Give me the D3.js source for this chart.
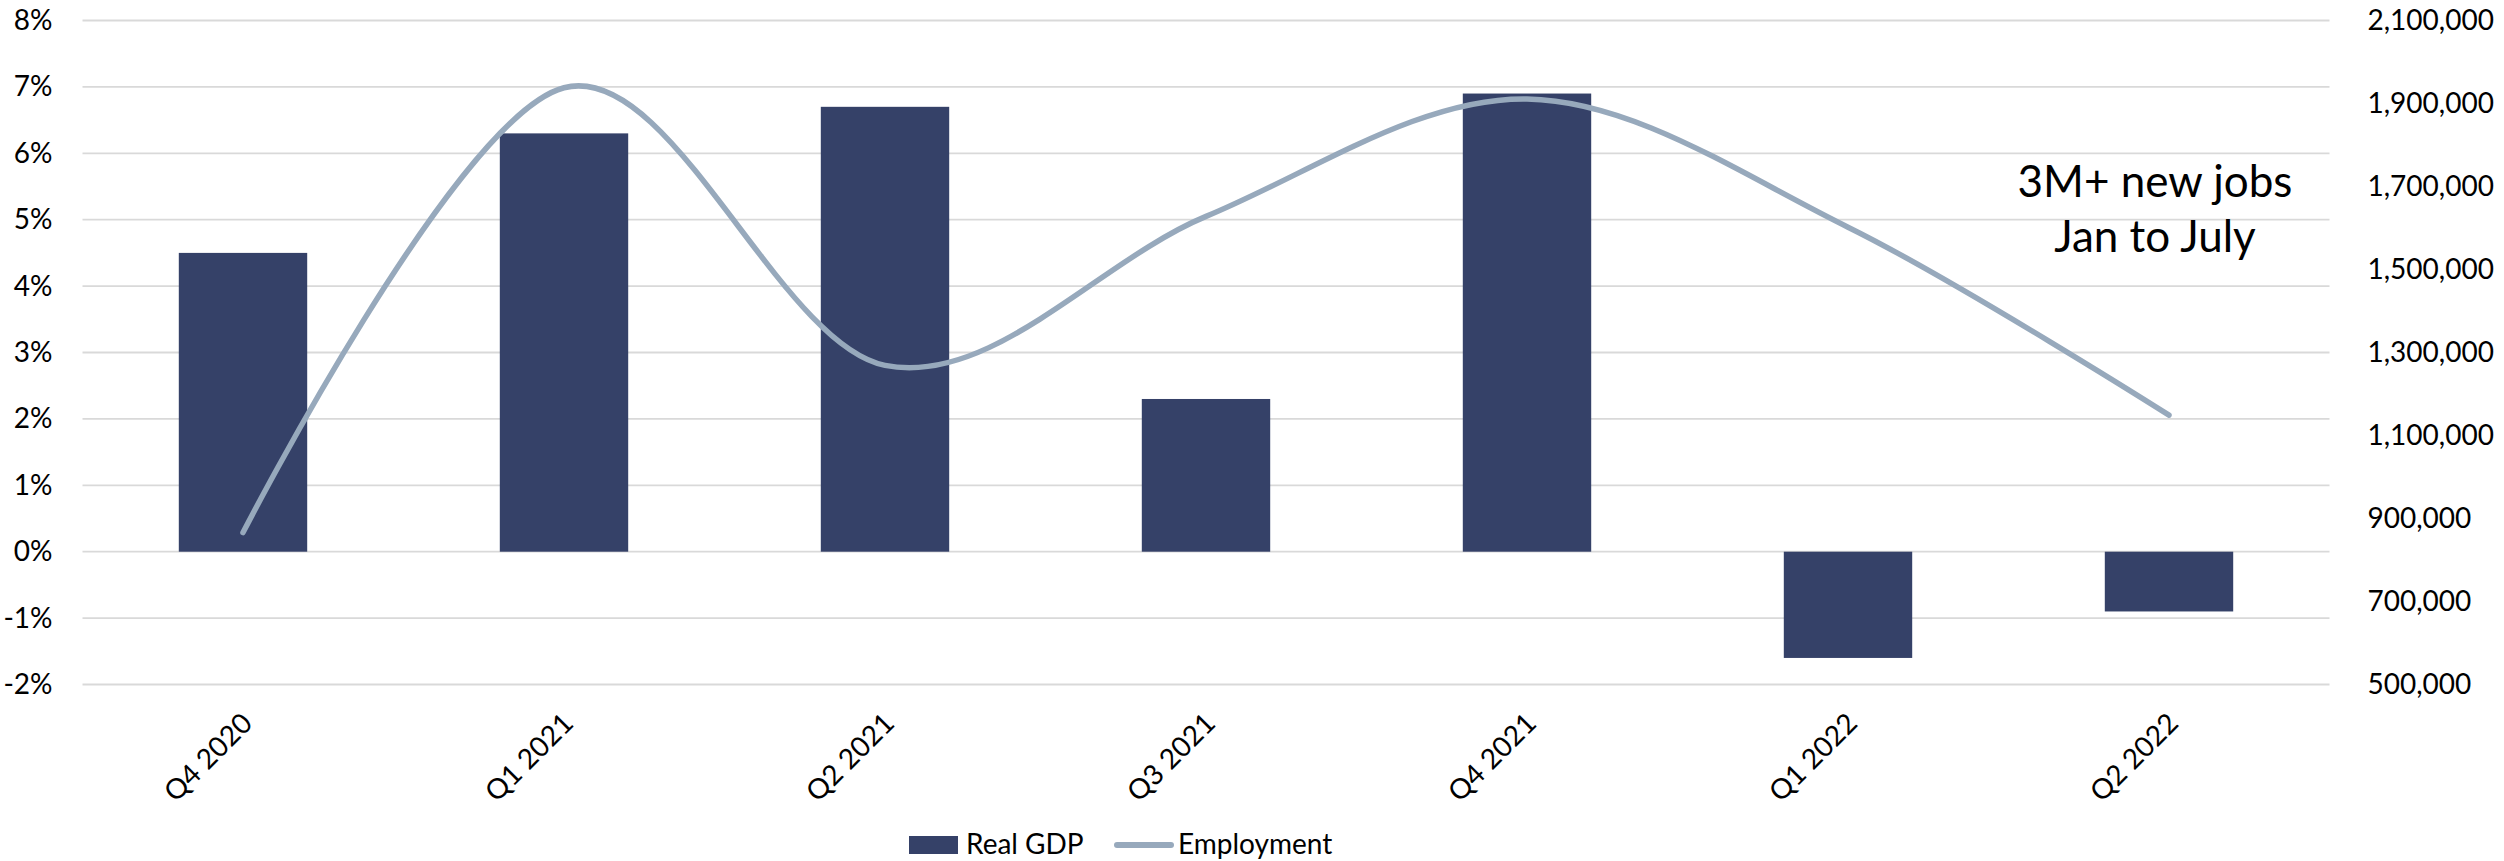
<!DOCTYPE html>
<html>
<head>
<meta charset="utf-8">
<script src="https://cdn.jsdelivr.net/npm/d3@7"></script>
<style>
  html, body { margin: 0; padding: 0; background: #ffffff; }
  svg { display: block; }
  text { font-family: Lato, "Open Sans", sans-serif; fill: #000; }
</style>
</head>
<body>
<svg id="chart" width="2504" height="861"></svg>
<script>
// Quarterly real GDP growth (%, annualized) and employment gains
const quarters = ["Q4 2020", "Q1 2021", "Q2 2021", "Q3 2021", "Q4 2021", "Q1 2022", "Q2 2022"];
const realGdp = [4.5, 6.3, 6.7, 2.3, 6.9, -1.6, -0.9];
const employment = [866000, 1938000, 1269000, 1628000, 1911000, 1602000, 1149000];

const gdpTicks = [-2, -1, 0, 1, 2, 3, 4, 5, 6, 7, 8];
const jobTicks = [500000, 700000, 900000, 1100000, 1300000, 1500000, 1700000, 1900000, 2100000];

const seriesNames = ["Real GDP", "Employment"];
const noteLines = ["3M+ new jobs", "Jan to July"];

const barColor = "#354168";
const lineColor = "#97a9bc";
const gridColor = "#d9d9d9";

const svg = d3.select("#chart");

const plot = { left: 82.5, right: 2329.5, top: 20.5, bottom: 684.5 };

const x = d3.scaleBand()
  .domain(quarters)
  .range([plot.left, plot.right])
  .paddingInner(0.6)
  .paddingOuter(0.3);

const yLeft = d3.scaleLinear().domain([-2, 8]).range([plot.bottom, plot.top]);
const yRight = d3.scaleLinear().domain([500000, 2100000]).range([plot.bottom, plot.top]);

// horizontal gridlines on the percentage axis
svg.append("g")
  .selectAll("line")
  .data(gdpTicks)
  .join("line")
  .attr("x1", plot.left)
  .attr("x2", plot.right)
  .attr("y1", d => yLeft(d))
  .attr("y2", d => yLeft(d))
  .attr("stroke", gridColor)
  .attr("stroke-width", 1.8);

// left axis: GDP growth
const leftAxis = svg.append("g")
  .attr("transform", `translate(${plot.left},0)`)
  .call(d3.axisLeft(yLeft).tickValues(gdpTicks).tickFormat(d => d + "%").tickSize(0).tickPadding(30));
leftAxis.select(".domain").remove();
leftAxis.selectAll("text")
  .attr("font-family", "Lato, sans-serif")
  .attr("font-size", 28)
  .attr("fill", "#000");

// right axis: employment
const rightAxis = svg.append("g")
  .attr("transform", `translate(${plot.right},0)`)
  .call(d3.axisRight(yRight).tickValues(jobTicks).tickFormat(d3.format(",")).tickSize(0).tickPadding(38));
rightAxis.select(".domain").remove();
rightAxis.selectAll("text")
  .attr("font-family", "Lato, sans-serif")
  .attr("font-size", 28)
  .attr("fill", "#000");

// GDP bars
svg.append("g")
  .selectAll("rect")
  .data(quarters.map((q, i) => ({ q, v: realGdp[i] })))
  .join("rect")
  .attr("x", d => x(d.q))
  .attr("width", x.bandwidth())
  .attr("y", d => yLeft(Math.max(0, d.v)))
  .attr("height", d => Math.abs(yLeft(d.v) - yLeft(0)))
  .attr("fill", barColor);

// smoothed employment line
const line = d3.line()
  .x((d, i) => x(quarters[i]) + x.bandwidth() / 2)
  .y(d => yRight(d))
  .curve(d3.curveCardinal.tension(0));

svg.append("path")
  .datum(employment)
  .attr("d", line)
  .attr("fill", "none")
  .attr("stroke", lineColor)
  .attr("stroke-width", 5.5)
  .attr("stroke-linecap", "round")
  .attr("stroke-linejoin", "round");

// rotated category labels
svg.append("g")
  .selectAll("text")
  .data(quarters)
  .join("text")
  .attr("transform", d => `translate(${x(d) + x.bandwidth() / 2 + 11},725) rotate(-45)`)
  .attr("text-anchor", "end")
  .attr("font-size", 28)
  .text(d => d);

// annotation
svg.append("text")
  .attr("x", 2155)
  .attr("y", 197)
  .attr("text-anchor", "middle")
  .attr("font-size", 44)
  .selectAll("tspan")
  .data(noteLines)
  .join("tspan")
  .attr("x", 2155)
  .attr("dy", (d, i) => i === 0 ? 0 : 55)
  .text(d => d);

// legend
const legend = svg.append("g");
legend.append("rect")
  .attr("x", 909).attr("y", 836).attr("width", 49).attr("height", 18)
  .attr("fill", barColor);
legend.append("text")
  .attr("x", 966).attr("y", 854)
  .attr("font-size", 28)
  .text(seriesNames[0]);
legend.append("line")
  .attr("x1", 1117).attr("x2", 1171).attr("y1", 845).attr("y2", 845)
  .attr("stroke", lineColor).attr("stroke-width", 6).attr("stroke-linecap", "round");
legend.append("text")
  .attr("x", 1178).attr("y", 854)
  .attr("font-size", 28)
  .text(seriesNames[1]);
</script>
</body>
</html>
